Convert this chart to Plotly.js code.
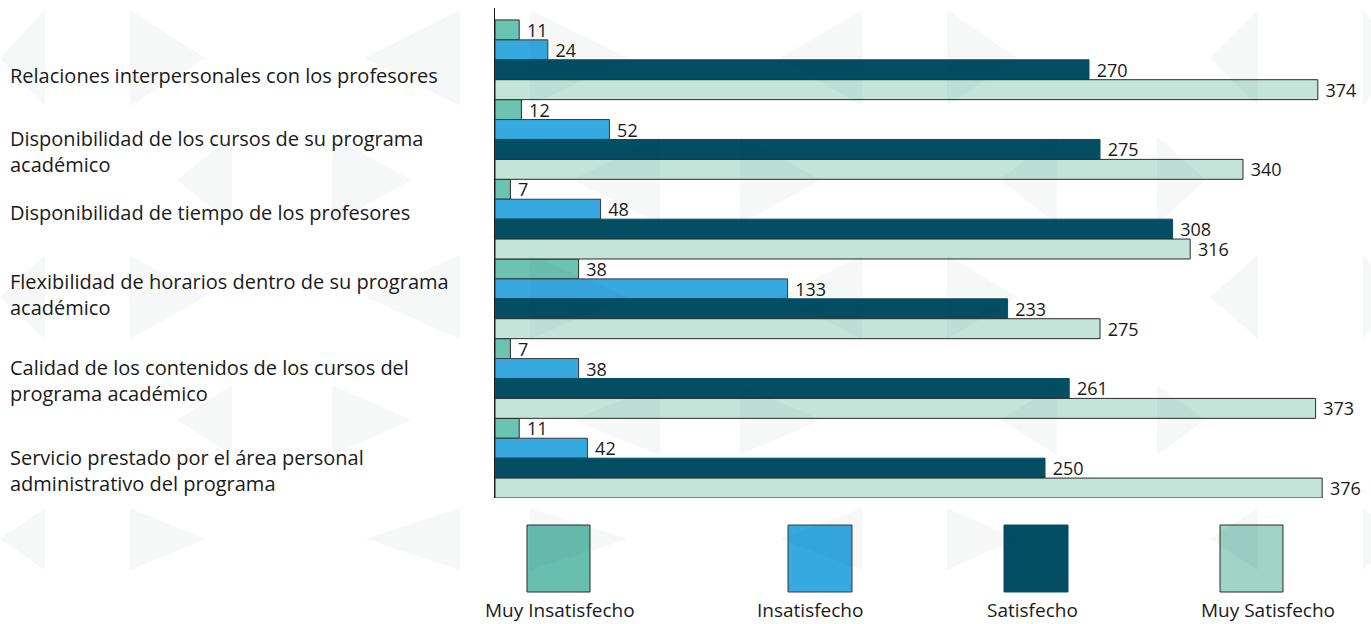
<!DOCTYPE html>
<html><head><meta charset="utf-8">
<script src="https://cdn.plot.ly/plotly-3.0.1.min.js"></script>
<style>html,body{margin:0;padding:0;background:#fff}#chart{width:1371px;height:624px}</style>
</head><body><div id="chart"></div>
<script>
const categories = [
  "Relaciones interpersonales con los profesores",
  "Disponibilidad de los cursos de su programa<br>académico",
  "Disponibilidad de tiempo de los profesores",
  "Flexibilidad de horarios dentro de su programa<br>académico",
  "Calidad de los contenidos de los cursos del<br>programa académico",
  "Servicio prestado por el área personal<br>administrativo del programa"
];
const seriesNames = ["Muy Insatisfecho", "Insatisfecho", "Satisfecho", "Muy Satisfecho"];
const muyInsatisfecho = [11, 12, 7, 38, 7, 11];
const insatisfecho = [24, 52, 48, 133, 38, 42];
const satisfecho = [270, 275, 308, 233, 261, 250];
const muySatisfecho = [374, 340, 316, 275, 373, 376];
const seriesValues = [muyInsatisfecho, insatisfecho, satisfecho, muySatisfecho];

const barColors = ["#6cc3b0", "#36a9e1", "#034e63", "#c4e4da"];
const legendColors = ["#68bfae", "#36a9e1", "#034e63", "#a0d3c6"];
const lineColors = ["#2a2a2a", "#3a3a3a", "#034e63", "#2a2a2a"];
const FONT = "'Open Sans', 'Noto Sans', sans-serif";

const W = 1371, H = 624;
const L = 495, R = 0, T = 8, B = 126;
const pw = W - L - R, ph = H - T - B;
const px2x = p => (p - L) / pw;
const py2y = p => (H - B - p) / ph;

const traces = seriesNames.map((n, i) => ({
  type: "bar", orientation: "h", name: n,
  y: categories, x: seriesValues[i],
  marker: {color: barColors[i], line: {color: lineColors[i], width: 1}},
  texttemplate: " %{x}", textposition: "outside", constraintext: "none",
  textfont: {family: FONT, size: 18, color: "#1a1a1a"},
  cliponaxis: false, hoverinfo: "x+name"
}));

// category labels as left-aligned annotations
const labelShift = [-16, -12, 7, 4, -2, -12];
const annotations = categories.map((c, i) => ({
  xref: "paper", yref: "y", x: px2x(8), y: c, xanchor: "left", yanchor: "middle",
  align: "left", text: c, showarrow: false, yshift: labelShift[i],
  font: {family: FONT, size: 20, color: "#1a1a1a"}
}));

// legend
const legX = [[527, 590], [788, 852], [1004, 1068], [1220, 1283]];
const legLabelX = [560, 810, 1032, 1268];
const shapes = [];
seriesNames.forEach((n, i) => {
  shapes.push({type: "rect", xref: "paper", yref: "paper",
    x0: px2x(legX[i][0]), x1: px2x(legX[i][1]), y0: py2y(592), y1: py2y(525),
    fillcolor: legendColors[i], line: {color: lineColors[i], width: 1}});
  annotations.push({xref: "paper", yref: "paper", x: px2x(legLabelX[i]), y: py2y(610),
    xanchor: "center", yanchor: "middle", text: n, showarrow: false,
    font: {family: FONT, size: 19, color: "#1a1a1a"}});
});

// faint background watermark triangles: [baseX, tipX, centerY, height] in pixels
const rowA = [[45, 0], [130, 205], [460, 365], [530, 628], [862, 780], [947, 1017], [1258, 1210], [1363, 1400]];
const rowB = [[232, 177], [332, 411], [660, 573], [740, 821], [1057, 1000], [1157, 1206]];
const deco = [];
rowA.forEach(t => deco.push([t[0], t[1], 58, 96]));
rowB.forEach(t => deco.push([t[0], t[1], 180, 88]));
rowA.forEach(t => deco.push([t[0], t[1], 297, 84]));
rowB.forEach(t => deco.push([t[0], t[1], 420, 70]));
rowA.forEach(t => deco.push([t[0], t[1], 539, 62]));
deco.forEach(d => {
  const [bx, tx, cy, h] = d;
  const p = (x, y) => px2x(x).toFixed(5) + "," + py2y(y).toFixed(5);
  shapes.push({type: "path", xref: "paper", yref: "paper", layer: "above",
    path: "M" + p(bx, cy - h / 2) + " L" + p(tx, cy) + " L" + p(bx, cy + h / 2) + " Z",
    fillcolor: "rgba(20,70,70,0.04)", line: {width: 0}});
});

const layout = {
  width: W, height: H,
  margin: {l: L, r: R, t: T, b: B},
  paper_bgcolor: "#ffffff", plot_bgcolor: "rgba(0,0,0,0)",
  barmode: "group", bargap: 0, bargroupgap: 0,
  showlegend: false,
  xaxis: {range: [0, pw / 2.2], showgrid: false, zeroline: false, showticklabels: false,
          showline: false, ticks: ""},
  yaxis: {type: "category", range: [5.5, -0.65], showgrid: false, zeroline: false,
          showticklabels: false, ticks: "", showline: true, linecolor: "#1a1a1a", linewidth: 1.5},
  shapes: shapes, annotations: annotations
};
Plotly.newPlot("chart", traces, layout, {displayModeBar: false, staticPlot: true});
</script></body></html>
